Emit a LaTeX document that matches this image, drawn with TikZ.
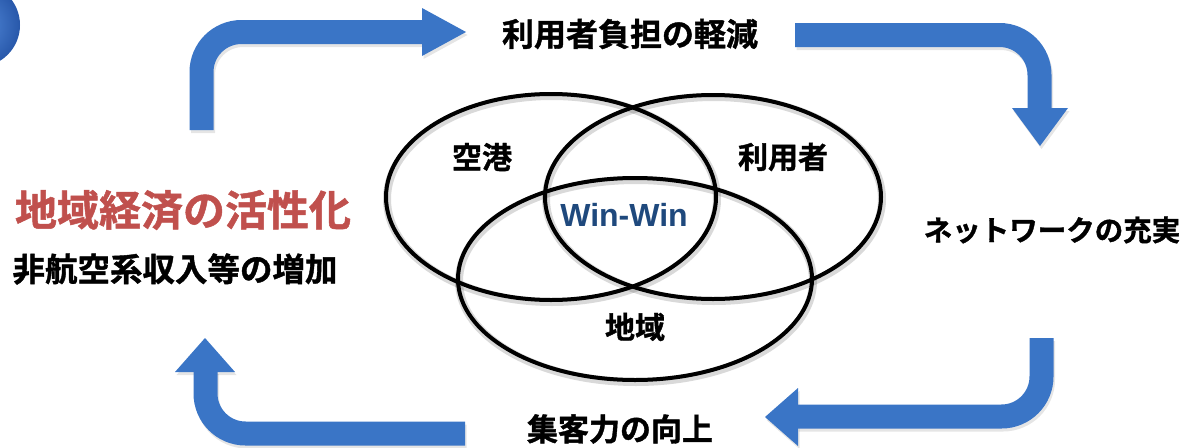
\documentclass[tikz,border=0pt]{standalone}
\usepackage{fontspec}
\newfontfamily\jpfont{Noto Sans CJK JP}[BoldFont={* Bold}, BoldFeatures={FakeBold=1.2}]
\newfontfamily\latfont{Liberation Sans}
\usetikzlibrary{shapes.geometric}
\definecolor{arrowblue}{RGB}{58,117,198}
\definecolor{ballinner}{RGB}{85,140,220}
\definecolor{ballouter}{RGB}{40,88,170}
\definecolor{redtext}{RGB}{192,80,77}
\definecolor{winblue}{RGB}{31,73,125}
\tikzset{
  band/.style={line width=24pt, draw=arrowblue, rounded corners=40pt, line cap=butt},
  bandshadow/.style={line width=24pt, draw=black, draw opacity=0.10, rounded corners=40pt, line cap=butt},
  headfill/.style={fill=arrowblue},
  headshadow/.style={fill=black, fill opacity=0.10},
  venn/.style={line width=4pt, draw=black},
  vennshadow/.style={line width=8pt, draw=black, draw opacity=0.15},
  jlabel/.style={font=\jpfont\bfseries\fontsize{#1}{#1}\selectfont, inner sep=0pt, anchor=center},
}
\begin{document}
\begin{tikzpicture}[x=1pt, y=-1pt]
\useasboundingbox (0,0) rectangle (1196,447);
% blue ball top-left
\shade[inner color=ballinner, outer color=ballouter] (-22,25) circle[radius=42pt];
% arrow shadows
\begin{scope}[shift={(1.5,3)}]
\draw[bandshadow] (201.5,130) -- (201.5,32) -- (423,32);
\fill[headshadow] (422,8) -- (466,32) -- (422,56) -- cycle;
\draw[bandshadow] (795,35) -- (1039.5,35) -- (1039.5,109);
\fill[headshadow] (1012,108) -- (1040,146) -- (1068,108) -- cycle;
\draw[bandshadow] (1041.5,338) -- (1041.5,416.5) -- (797,416.5);
\fill[headshadow] (798,388) -- (765,417) -- (798,446) -- cycle;
\draw[bandshadow] (465,433.5) -- (205.5,433.5) -- (205.5,371);
\fill[headshadow] (175,372) -- (205,338) -- (235,372) -- cycle;
\end{scope}
% arrows
\draw[band] (201.5,130) -- (201.5,32) -- (423,32);
\fill[headfill] (422,8) -- (466,32) -- (422,56) -- cycle;
\draw[band] (795,35) -- (1039.5,35) -- (1039.5,109);
\fill[headfill] (1012,108) -- (1040,146) -- (1068,108) -- cycle;
\draw[band] (1041.5,338) -- (1041.5,416.5) -- (797,416.5);
\fill[headfill] (798,388) -- (765,417) -- (798,446) -- cycle;
\draw[band] (465,433.5) -- (205.5,433.5) -- (205.5,371);
\fill[headfill] (175,372) -- (205,338) -- (235,372) -- cycle;
% Venn shadows
\begin{scope}[shift={(1,2)}]
\draw[vennshadow] (551,197) ellipse[x radius=165pt, y radius=103pt];
\draw[vennshadow] (713,197) ellipse[x radius=168pt, y radius=102pt];
\draw[vennshadow] (635,279) ellipse[x radius=177pt, y radius=101pt];
\end{scope}
% Venn
\draw[venn] (551,197) ellipse[x radius=165pt, y radius=103pt];
\draw[venn] (713,197) ellipse[x radius=168pt, y radius=102pt];
\draw[venn] (635,279) ellipse[x radius=177pt, y radius=101pt];
% Venn labels
\node[jlabel=30] (airport) at (482,157) {空港};
\node[jlabel=30] (users) at (783,157) {利用者};
\node[jlabel=30] (region) at (635,327) {地域};
\node[font=\latfont\bfseries\fontsize{32}{32}\selectfont, text=winblue, inner sep=0pt] (win) at (624,215) {Win-Win};
% outer labels
\node[jlabel=32] (burden) at (630,34) {利用者負担の軽減};
\node[jlabel=42, text=redtext] (econ) at (183,210) {地域経済の活性化};
\node[jlabel=32.5] (income) at (175,269) {非航空系収入等の増加};
\node[jlabel=28.5] (network) at (1052,230) {ネットワークの充実};
\node[jlabel=31] (attract) at (620,429) {集客力の向上};
\end{tikzpicture}
\end{document}
